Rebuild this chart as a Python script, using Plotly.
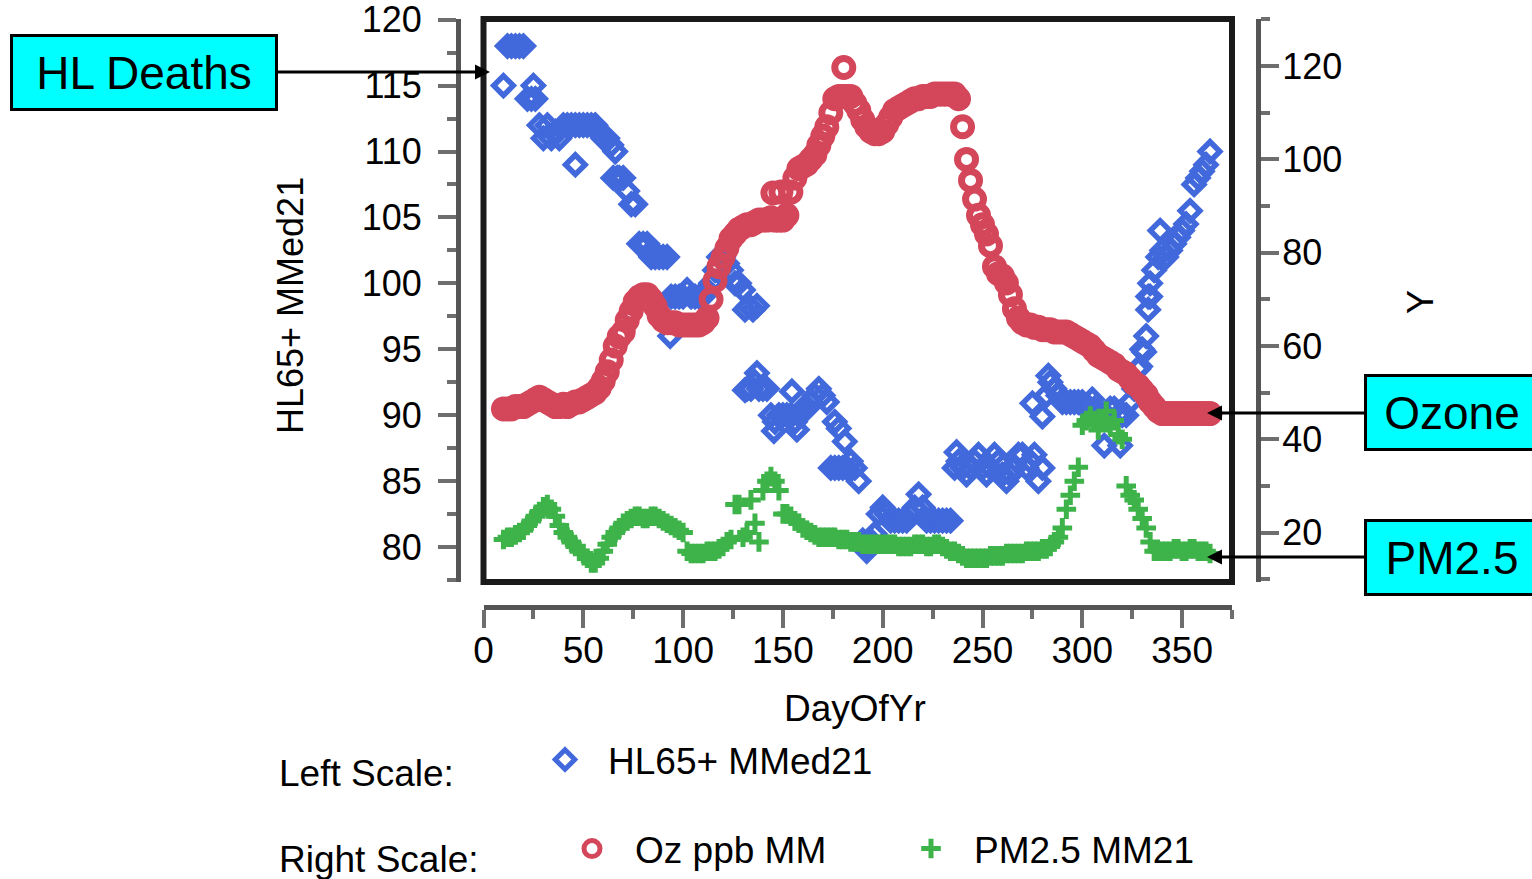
import plotly.graph_objects as go

W, H = 1532, 879


def px(x):
    return x / W


def py(y):
    return 1 - y / H


# ---------------- data ----------------
DAYS = list(range(10, 366, 2))

HL65 = [
    115, 118, 118, 118, 118, 118, 114, 114, 114, 112,
    111, 112, 111, 111.5, 111, 112, 112, 112, 112, 112,
    112, 112, 112, 112, 111.5, 111, 111, 110.5, 110, 108,
    108, 107, 106, 106, 103, 103, 103, 102, 102, 102,
    102, 102, 99, 99, 99, 99, 99.5, 99, 99, 99,
    99, 99.5, 100, 101, 102, 102, 101.5, 101, 100, 100,
    99.5, 92, 92, 92.5, 92, 92, 92, 90, 89.5, 90,
    90, 90, 90, 89.5, 90, 90.5, 90.5, 91, 91.5, 92,
    91.5, 91, 86, 86, 86, 86, 86, 86.5, 86, 85,
    80.5, 80, 80.5, 81, 82.5, 83, 82.5, 82, 82, 82,
    82, 82, 82.5, 83, 84, 83, 82, 82, 82, 82,
    82, 82, 82, 86, 86.5, 86, 85.5, 86, 86.5, 87,
    86, 85.5, 86, 87, 86.5, 85.5, 85, 85.5, 86, 87,
    87, 86, 86.5, 87, 85, 86, 91.5, 92.5, 92, 91.5,
    91, 91, 91, 91, 91, 91, 90.5, 90.5, 90.5, 90,
    90, 90, 90.5, 90.5, 90, 90, 90, 91, 92, 93.5,
    95, 96, 99, 101, 102, 102.5, 102, 102.5, 103, 103.5,
    104, 104.5, 105.5, 107.5, 108, 108.5, 109, 110,
]

HL65_EXTRA_DAYS = [25, 46, 65, 67, 93.5, 131, 133, 135, 137, 131,
                   137, 145.5, 154.5, 157, 176, 178, 181, 192, 201, 237,
                   275, 280, 283, 305, 311, 319, 329, 331, 333, 333,
                   334, 339]
HL65_EXTRA_VALS = [115, 109, 108, 108, 96, 98, 98.3, 98, 98.3, 91.9,
                   93.2, 88.8, 91.8, 88.9, 89.5, 89, 88, 79.7, 82.8, 87.2,
                   90.9, 89.9, 93, 91.2, 87.7, 87.7, 93.7, 94.8, 98, 99,
                   100, 104]

OZONE = [
    46.5, 46.5, 46.5, 47, 47, 47, 47.5, 48, 48.5, 49,
    48.5, 48, 47.5, 47, 47, 47.5, 47, 47.5, 48, 48,
    48.5, 49, 49.5, 50, 51, 52.5, 54.5, 57, 60, 62,
    63, 65.5, 67.5, 69.5, 70.5, 71, 71, 70, 68.5, 66.5,
    65.5, 65, 65, 65, 64.5, 64.5, 64.5, 64.5, 64.5, 64.5,
    65, 66, 70, 74, 77, 79, 81, 83, 84, 85,
    85.5, 86, 86, 86.5, 87, 87, 87, 87.5, 87, 87,
    87, 88, 93, 96, 98, 98.5, 99, 100, 101, 103,
    105, 107, 110, 113, 113.5, 113.5, 113.5, 113.5, 112, 110.5,
    108.5, 107, 106, 105.5, 105.5, 106, 107.5, 109, 110.5, 111,
    111.5, 112, 112.5, 113, 113, 113.5, 113.5, 113.5, 114, 114,
    114, 114, 114, 114, 113, 107, 100, 95.5, 91.5, 88,
    86, 84, 81.5, 77, 75.5, 75, 73.5, 71, 68, 66,
    65, 64.5, 64.5, 64, 64, 63.5, 63.5, 63.5, 63, 63,
    63, 63, 62.5, 62, 61.5, 61, 60.5, 60, 59, 58,
    57.5, 57, 56.5, 56, 55, 54.5, 54, 53, 52, 51.5,
    50.5, 49.5, 48, 47, 46, 45.5, 45.5, 45.5, 45.5, 45.5,
    45.5, 45.5, 45.5, 45.5, 45.5, 45.5, 45.5, 45.5,
]

OZONE_EXTRA_DAYS = [145, 149, 180.5]
OZONE_EXTRA_VALS = [92.8, 93, 119.7]

PM25 = [
    18.5, 19, 19, 19.5, 20, 20.5, 21.5, 22.5, 23.5, 24.5,
    25.5, 26, 25, 23.5, 21.5, 20, 19, 18, 17, 16,
    15.5, 14.5, 13.5, 13.5, 14.5, 16, 17.5, 19, 20, 21,
    22, 22.5, 23, 23.5, 23.5, 23, 23, 23.5, 23.5, 23,
    22.5, 22, 21.5, 21, 20.5, 20, 16, 15.5, 15.5, 15.5,
    15.5, 16, 16, 16, 16.5, 17, 18, 18.5, 26, 26,
    19, 20, 27, 22, 18, 29, 31, 32, 31, 29,
    24, 24, 23.5, 22.5, 22, 21, 20.5, 20, 19.5, 19,
    19, 19, 19, 19, 18.5, 18.5, 18.5, 18, 18, 18,
    17.5, 17.5, 17.5, 17.5, 17.5, 17.5, 17.5, 17.5, 17.5, 17,
    17, 17, 17, 17.5, 17.5, 17.5, 17, 17, 17.5, 17.5,
    17, 16.5, 16, 16, 15.5, 15, 14.5, 14.5, 14.5, 14.5,
    14.5, 14.5, 15, 15, 15, 15, 15.5, 15.5, 15.5, 15.5,
    15.5, 16, 16, 16, 16, 16.5, 16.5, 17, 18, 19,
    21, 25, 28, 31, 34, 43, 44, 45, 44, 42,
    44, 46, 43, 44, 41, 40, 30, 28, 27, 25,
    23, 21, 18, 16, 16, 16, 16, 16, 16.5, 16.5,
    16, 16, 16.5, 16.5, 16, 16, 16, 15.5,
]

X_TICKS = [0, 50, 100, 150, 200, 250, 300, 350]
LEFT_TICKS = [80, 85, 90, 95, 100, 105, 110, 115, 120]
RIGHT_TICKS = [20, 40, 60, 80, 100, 120]

# ---------------- styles ----------------
FONT = "Liberation Sans, Arial, sans-serif"
BLUE = "#4169dc"
RED = "#d4465a"
GREEN = "#3db34a"
AXIS_LINE = "#555555"
TICK_COL = "#6e6e6e"

BLUE_MARKER = dict(symbol="diamond-open", size=15, color=BLUE, line=dict(width=5.5, color=BLUE))
RED_MARKER = dict(symbol="circle-open", size=18, color=RED, line=dict(width=7, color=RED))
GREEN_MARKER = dict(symbol="cross-thin-open", size=14, color=GREEN, line=dict(width=5, color=GREEN))

fig = go.Figure()

fig.add_trace(go.Scatter(
    x=DAYS, y=HL65, mode="markers", name="HL65+ MMed21",
    marker=BLUE_MARKER, yaxis="y", legend="legend",
))
fig.add_trace(go.Scatter(
    x=HL65_EXTRA_DAYS, y=HL65_EXTRA_VALS, mode="markers", showlegend=False,
    marker=BLUE_MARKER, yaxis="y",
))
fig.add_trace(go.Scatter(
    x=DAYS, y=OZONE, mode="markers", name="Oz ppb MM",
    marker=RED_MARKER, yaxis="y2", legend="legend2",
))
fig.add_trace(go.Scatter(
    x=OZONE_EXTRA_DAYS, y=OZONE_EXTRA_VALS, mode="markers", showlegend=False,
    marker=RED_MARKER, yaxis="y2",
))
fig.add_trace(go.Scatter(
    x=DAYS, y=PM25, mode="markers", name="PM2.5 MM21",
    marker=GREEN_MARKER, yaxis="y2", legend="legend2",
))

x_dom = [px(483.5), px(1232)]
y_dom = [py(582), py(19)]

axis_common = dict(
    ticks="outside", ticklen=18, tickwidth=4, tickcolor=TICK_COL,
    showline=True, linewidth=5, linecolor=AXIS_LINE, showgrid=False, zeroline=False,
    ticklabeloverflow="allow", automargin=False,
)

fig.update_layout(
    width=W, height=H, autosize=False,
    margin=dict(l=0, r=0, t=0, b=0, pad=0, autoexpand=False),
    paper_bgcolor="white", plot_bgcolor="white",
    font=dict(family=FONT, size=36, color="black"),
    xaxis=dict(
        domain=x_dom, range=[0, 375], anchor="free", position=py(607),
        tickvals=X_TICKS, tickfont=dict(size=37), ticklabelstandoff=-9,
        minor=dict(dtick=25, ticks="outside", ticklen=9, tickwidth=4, tickcolor=TICK_COL),
        **axis_common,
    ),
    yaxis=dict(
        domain=y_dom, range=[77.35, 120.05], anchor="free", position=px(458), side="left",
        tickvals=LEFT_TICKS, tickfont=dict(size=36), ticklabelstandoff=9,
        minor=dict(dtick=2.5, ticks="outside", ticklen=9, tickwidth=4, tickcolor=TICK_COL),
        **axis_common,
    ),
    yaxis2=dict(
        domain=y_dom, range=[9.4, 130.1], anchor="free", position=px(1258), side="right",
        overlaying="y",
        tickvals=RIGHT_TICKS, tickfont=dict(size=36), ticklabelstandoff=-4,
        minor=dict(dtick=10, ticks="outside", ticklen=9, tickwidth=4, tickcolor=TICK_COL),
        **axis_common,
    ),
    legend=dict(
        x=px(522), y=py(729), xanchor="left", yanchor="top", orientation="h",
        font=dict(size=37), bgcolor="rgba(0,0,0,0)", itemsizing="trace", itemwidth=76,
    ),
    legend2=dict(
        x=px(549), y=py(818), xanchor="left", yanchor="top", orientation="h",
        font=dict(size=37), bgcolor="rgba(0,0,0,0)", itemsizing="trace", itemwidth=76,
        entrywidth=248,
    ),
    showlegend=True,
)

# frame around the plotting area
fig.add_shape(type="rect", xref="paper", yref="paper",
              x0=x_dom[0], x1=x_dom[1], y0=y_dom[0], y1=y_dom[1],
              line=dict(color="#1a1a1a", width=6), fillcolor="rgba(0,0,0,0)", layer="above")

text_style = dict(xref="paper", yref="paper", showarrow=False)
annotations = [
    dict(text="HL65+ MMed21", x=px(290), y=py(306), textangle=-90,
         font=dict(size=36), xanchor="center", yanchor="middle", **text_style),
    dict(text="Y", x=px(1420), y=py(302), textangle=-90,
         font=dict(size=36), xanchor="center", yanchor="middle", **text_style),
    dict(text="DayOfYr", x=px(855), y=py(708),
         font=dict(size=37), xanchor="center", yanchor="middle", **text_style),
    dict(text="Left Scale:", x=px(277), y=py(773),
         font=dict(size=37), xanchor="left", yanchor="middle", **text_style),
    dict(text="Right Scale:", x=px(277), y=py(859),
         font=dict(size=37), xanchor="left", yanchor="middle", **text_style),
]

box_style = dict(xref="paper", yref="paper", showarrow=True, arrowhead=2, arrowsize=1.0,
                 arrowwidth=3, arrowcolor="black", bgcolor="#00ffff", bordercolor="black",
                 borderwidth=3, borderpad=0, font=dict(size=46, color="black"),
                 axref="pixel", ayref="pixel")

annotations.append(dict(text="HL Deaths", x=px(490), y=py(72), ax=143.5 - 490, ay=0,
                        width=262, height=71, **box_style))
annotations.append(dict(text="Ozone", x=px(1207), y=py(413), ax=1452 - 1207, ay=0,
                        width=170, height=71, **box_style))
annotations.append(dict(text="PM2.5", x=px(1207), y=py(557), ax=1452 - 1207, ay=0,
                        width=170, height=71, **box_style))

fig.update_layout(annotations=annotations)

# remove the default page margin so the figure fills the window exactly
fig.write_html("out.html", config={"displayModeBar": False},
               post_script="document.body.style.margin='0px';")
